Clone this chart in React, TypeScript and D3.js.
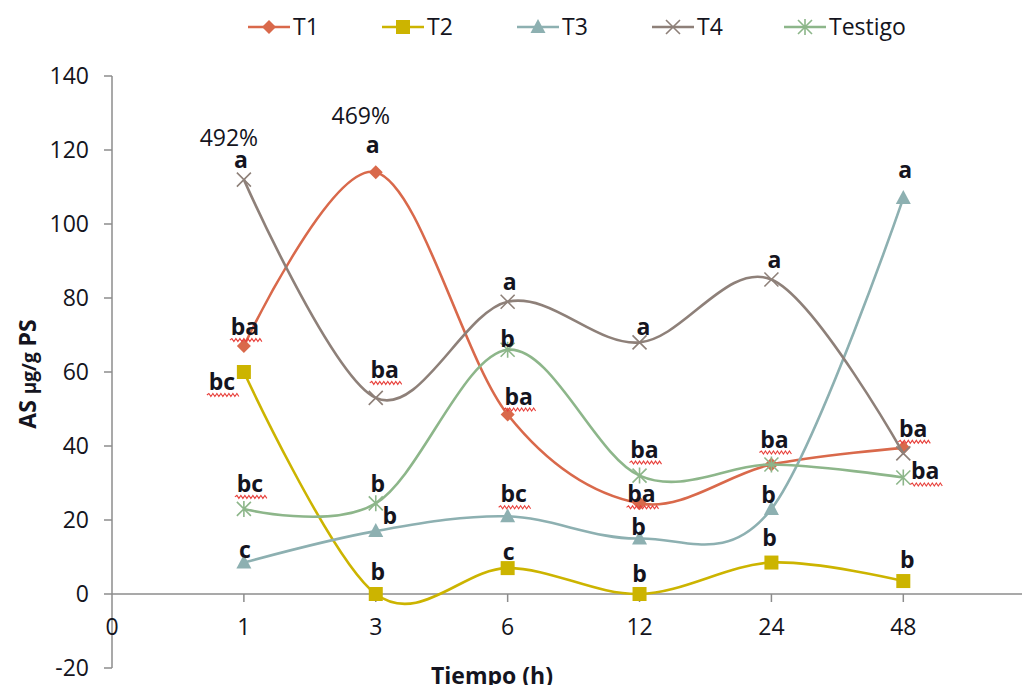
import React from "react";
import * as d3 from "d3";

const categories = ["0", "1", "3", "6", "12", "24", "48"];
const yTicks = [-20, 0, 20, 40, 60, 80, 100, 120, 140];

// values at categories 1,3,6,12,24,48 (index 1..6)
const t1 = [67, 114, 48.5, 24.5, 35, 39.5];
const t2 = [60, 0, 7, 0, 8.5, 3.5];
const t3 = [8.5, 17, 21, 15, 23, 107];
const t4 = [112, 53, 79, 68, 85, 38];
const testigo = [23, 24.5, 66, 32, 35, 31.5];

const seriesNames = ["T1", "T2", "T3", "T4", "Testigo"];
const seriesValues = [t1, t2, t3, t4, testigo];
const seriesColors = ["#D9694B", "#CCB400", "#8DB0B1", "#8E8079", "#8DB68A"];
const seriesMarkers = ["diamond", "square", "triangle", "x", "star"];

// letter annotations: [series index, point index, text, underline, dx, dy, bold]
const labels: [number, number, string, boolean, number, number, boolean][] = [
  [3, 0, "a", false, -3, -12, true],
  [3, 0, "492%", false, -15, -34, false],
  [0, 1, "a", false, -3, -19, true],
  [0, 1, "469%", false, -15, -48, false],
  [0, 0, "ba", true, 1, -11, true],
  [1, 0, "bc", true, -22, 18, true],
  [4, 0, "bc", true, 6, -17, true],
  [2, 0, "c", false, 1, -5, true],
  [3, 1, "ba", true, 9, -20, true],
  [4, 1, "b", false, 2, -11, true],
  [2, 1, "b", false, 14, -7, true],
  [1, 1, "b", false, 2, -14, true],
  [3, 2, "a", false, 2, -12, true],
  [4, 2, "b", false, 0, -3, true],
  [0, 2, "ba", true, 11, -10, true],
  [2, 2, "bc", true, 6, -14, true],
  [1, 2, "c", false, 1, -8, true],
  [3, 3, "a", false, 4, -7, true],
  [4, 3, "ba", true, 5, -18, true],
  [0, 3, "ba", true, 2, -1, true],
  [2, 3, "b", false, -1, -4, true],
  [1, 3, "b", false, 0, -12, true],
  [3, 4, "a", false, 3, -12, true],
  [0, 4, "ba", true, 3, -17, true],
  [2, 4, "b", false, -3, -6, true],
  [1, 4, "b", false, -2, -17, true],
  [2, 5, "a", false, 2, -20, true],
  [0, 5, "ba", true, 10, -11, true],
  [4, 5, "ba", true, 22, 2, true],
  [1, 5, "b", false, 4, -13, true],
];

const W = 1028;
const H = 685;
const FONT = "'Open Sans', Lato, sans-serif";
const FS = 23;
const TEXT = "#141420";
const AXIS = "#8C8C8C";

const x = d3.scaleLinear().domain([0, 6.9]).range([112, 1022]);
const y = d3.scaleLinear().domain([-20, 140]).range([668, 76]);

function Marker({ type, cx, cy, color }: { type: string; cx: number; cy: number; color: string }) {
  if (type === "diamond") {
    const s = 7;
    return <path d={`M${cx},${cy - s}L${cx + s},${cy}L${cx},${cy + s}L${cx - s},${cy}Z`} fill={color} />;
  }
  if (type === "square") {
    const s = 7;
    return <rect x={cx - s} y={cy - s} width={2 * s} height={2 * s} fill={color} />;
  }
  if (type === "triangle") {
    return <path d={`M${cx},${cy - 8}L${cx + 7.5},${cy + 6}L${cx - 7.5},${cy + 6}Z`} fill={color} />;
  }
  if (type === "x") {
    const s = 7;
    return (
      <path
        d={`M${cx - s},${cy - s}L${cx + s},${cy + s}M${cx - s},${cy + s}L${cx + s},${cy - s}`}
        stroke={color}
        strokeWidth={1.6}
      />
    );
  }
  const s = 7;
  return (
    <path
      d={`M${cx - s},${cy - s}L${cx + s},${cy + s}M${cx - s},${cy + s}L${cx + s},${cy - s}M${cx},${cy - s - 1}L${cx},${cy + s + 1}`}
      stroke={color}
      strokeWidth={1.6}
    />
  );
}

function wavy(x0: number, x1: number, yy: number) {
  let d = `M${x0},${yy}`;
  let up = true;
  for (let xx = x0 + 2; xx <= x1; xx += 2) {
    d += `L${xx},${yy + (up ? -1.5 : 1.5)}`;
    up = !up;
  }
  return d;
}

function textWidth(t: string, bold: boolean) {
  return t.length * (bold ? 14 : 13);
}

export default function App() {
  const line = d3
    .line<number>()
    .x((_, i) => x(i + 1))
    .y((v) => y(v))
    .curve(d3.curveCardinal.tension(0));

  const legendX = [248, 382, 517, 652, 784];

  return (
    <svg width={W} height={H} style={{ position: "absolute", left: 0, top: 0, background: "#fff" }}>
      {/* axes */}
      <line x1={112} x2={112} y1={y(140)} y2={y(-20)} stroke={AXIS} strokeWidth={1.5} />
      <line x1={x(0)} x2={1022} y1={y(0)} y2={y(0)} stroke={AXIS} strokeWidth={1.5} />
      {yTicks.map((t) => (
        <g key={t}>
          <line x1={104} x2={112} y1={y(t)} y2={y(t)} stroke={AXIS} strokeWidth={1.5} />
          <text x={89} y={y(t) + 8} textAnchor="end" fontFamily={FONT} fontSize={FS} fill={TEXT}>
            {t}
          </text>
        </g>
      ))}
      {categories.map((c, i) => (
        <g key={c}>
          {i > 0 && <line x1={x(i)} x2={x(i)} y1={y(0)} y2={y(0) + 8} stroke={AXIS} strokeWidth={1.5} />}
          <text x={x(i)} y={635} textAnchor="middle" fontFamily={FONT} fontSize={FS} fill={TEXT}>
            {c}
          </text>
        </g>
      ))}
      {/* axis titles */}
      <text x={492} y={684} textAnchor="middle" fontFamily={FONT} fontSize={FS} fontWeight="bold" fill={TEXT}>
        Tiempo (h)
      </text>
      <text
        transform="translate(36,374) rotate(-90)"
        textAnchor="middle"
        fontFamily={FONT}
        fontSize={FS}
        fontWeight="bold"
        fill={TEXT}
      >
        AS <tspan fontSize={19}>µg/g</tspan> PS
      </text>
      {/* series */}
      {seriesValues.map((vals, si) => (
        <g key={seriesNames[si]}>
          <path d={line(vals) || ""} fill="none" stroke={seriesColors[si]} strokeWidth={2.6} />
          {vals.map((v, i) => (
            <Marker key={i} type={seriesMarkers[si]} cx={x(i + 1)} cy={y(v)} color={seriesColors[si]} />
          ))}
        </g>
      ))}
      {/* labels */}
      {labels.map(([si, pi, t, ul, dx, dy, bold], k) => {
        const cx = x(pi + 1) + dx;
        const by = y(seriesValues[si][pi]) + dy;
        const w = textWidth(t, bold);
        return (
          <g key={k}>
            <text
              x={cx}
              y={by}
              textAnchor="middle"
              fontFamily={FONT}
              fontSize={FS}
              fontWeight={bold ? "bold" : "normal"}
              fill={TEXT}
            >
              {t}
            </text>
            {ul && <path d={wavy(cx - w / 2 - 1, cx + w / 2 + 3, by + 5)} fill="none" stroke="#E8413C" strokeWidth={1.1} />}
          </g>
        );
      })}
      {/* legend */}
      {seriesNames.map((n, si) => (
        <g key={n}>
          <line x1={legendX[si]} x2={legendX[si] + 42} y1={27} y2={27} stroke={seriesColors[si]} strokeWidth={2.6} />
          <Marker type={seriesMarkers[si]} cx={legendX[si] + 21} cy={27} color={seriesColors[si]} />
          <text x={legendX[si] + 45} y={35} fontFamily={FONT} fontSize={FS} fill={TEXT}>
            {n}
          </text>
        </g>
      ))}
    </svg>
  );
}
